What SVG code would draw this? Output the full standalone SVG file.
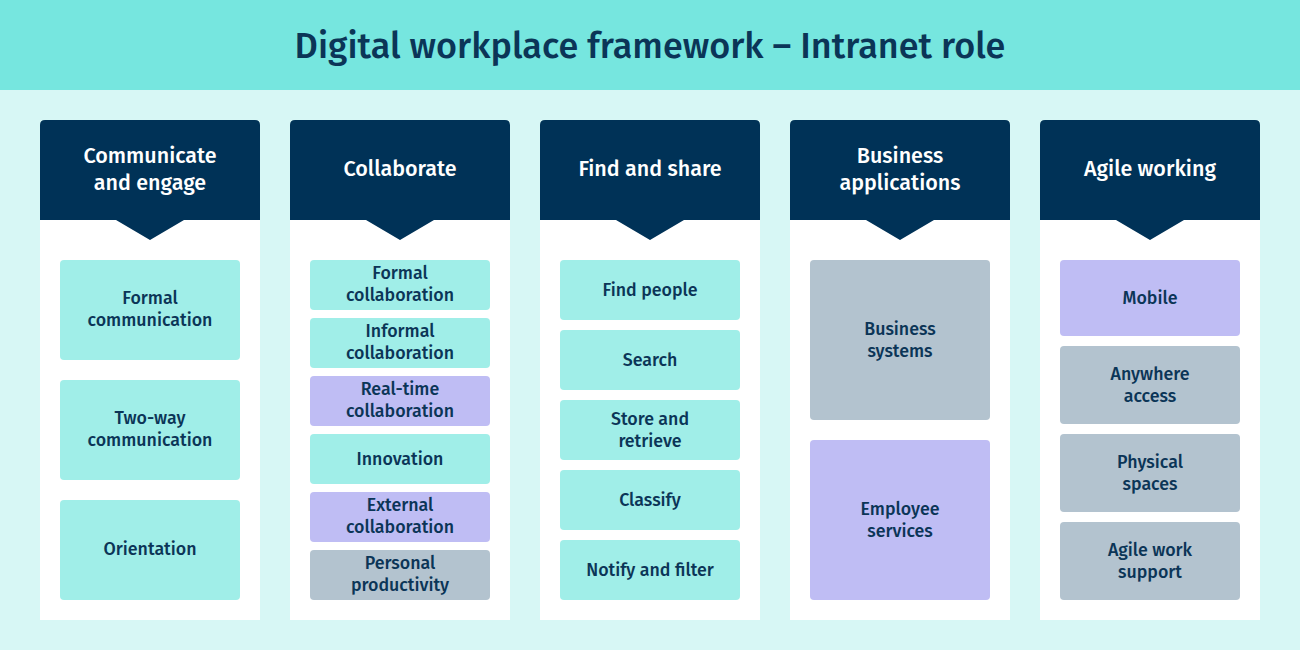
<svg xmlns="http://www.w3.org/2000/svg" width="1300" height="650" viewBox="0 0 1300 650">
<style>
.title{font-family:"Fira Sans","Noto Sans","Open Sans",sans-serif;font-weight:500;font-size:36px;fill:#0b3557;text-anchor:middle}
.hd{fill:#003257}
.hdt{font-family:"Fira Sans","Noto Sans","Open Sans",sans-serif;font-weight:500;font-size:21.5px;fill:#ffffff;text-anchor:middle}
.body{fill:#ffffff}
.t{fill:#a0eee8}
.p{fill:#bfbdf4}
.g{fill:#b3c3cf}
.it{font-family:"Fira Sans","Noto Sans","Open Sans",sans-serif;font-weight:500;font-size:17.8px;fill:#0b3557;text-anchor:middle}
</style>
<defs>
<path id="col" d="M40,220 V125 Q40,120 45,120 H255 Q260,120 260,125 V220 H184 L150,240 L116,220 Z"/>
</defs>
<rect x="0" y="0" width="1300" height="650" fill="#d7f7f5"/>
<rect x="0" y="0" width="1300" height="90" fill="#76e6df"/>
<text class="title" x="650" y="58">Digital workplace framework – Intranet role</text>

<g id="col1">
<rect class="body" x="40" y="220" width="220" height="400"/>
<use href="#col" class="hd"/>
<text class="hdt" x="150" y="163">Communicate</text>
<text class="hdt" x="150" y="190">and engage</text>
<rect class="t" x="60" y="260" width="180" height="100" rx="4"/>
<text class="it" x="150" y="304">Formal</text><text class="it" x="150" y="326">communication</text>
<rect class="t" x="60" y="380" width="180" height="100" rx="4"/>
<text class="it" x="150" y="424">Two-way</text><text class="it" x="150" y="446">communication</text>
<rect class="t" x="60" y="500" width="180" height="100" rx="4"/>
<text class="it" x="150" y="555">Orientation</text>
</g>

<g id="col2">
<rect class="body" x="290" y="220" width="220" height="400"/>
<use href="#col" class="hd" x="250"/>
<text class="hdt" x="400" y="176">Collaborate</text>
<rect class="t" x="310" y="260" width="180" height="50" rx="4"/>
<text class="it" x="400" y="279">Formal</text><text class="it" x="400" y="301">collaboration</text>
<rect class="t" x="310" y="318" width="180" height="50" rx="4"/>
<text class="it" x="400" y="337">Informal</text><text class="it" x="400" y="359">collaboration</text>
<rect class="p" x="310" y="376" width="180" height="50" rx="4"/>
<text class="it" x="400" y="395">Real-time</text><text class="it" x="400" y="417">collaboration</text>
<rect class="t" x="310" y="434" width="180" height="50" rx="4"/>
<text class="it" x="400" y="465">Innovation</text>
<rect class="p" x="310" y="492" width="180" height="50" rx="4"/>
<text class="it" x="400" y="511">External</text><text class="it" x="400" y="533">collaboration</text>
<rect class="g" x="310" y="550" width="180" height="50" rx="4"/>
<text class="it" x="400" y="569">Personal</text><text class="it" x="400" y="591">productivity</text>
</g>

<g id="col3">
<rect class="body" x="540" y="220" width="220" height="400"/>
<use href="#col" class="hd" x="500"/>
<text class="hdt" x="650" y="176">Find and share</text>
<rect class="t" x="560" y="260" width="180" height="60" rx="4"/>
<text class="it" x="650" y="296">Find people</text>
<rect class="t" x="560" y="330" width="180" height="60" rx="4"/>
<text class="it" x="650" y="366">Search</text>
<rect class="t" x="560" y="400" width="180" height="60" rx="4"/>
<text class="it" x="650" y="425">Store and</text><text class="it" x="650" y="447">retrieve</text>
<rect class="t" x="560" y="470" width="180" height="60" rx="4"/>
<text class="it" x="650" y="506">Classify</text>
<rect class="t" x="560" y="540" width="180" height="60" rx="4"/>
<text class="it" x="650" y="576">Notify and filter</text>
</g>

<g id="col4">
<rect class="body" x="790" y="220" width="220" height="400"/>
<use href="#col" class="hd" x="750"/>
<text class="hdt" x="900" y="163">Business</text>
<text class="hdt" x="900" y="190">applications</text>
<rect class="g" x="810" y="260" width="180" height="160" rx="4"/>
<text class="it" x="900" y="335">Business</text><text class="it" x="900" y="357">systems</text>
<rect class="p" x="810" y="440" width="180" height="160" rx="4"/>
<text class="it" x="900" y="515">Employee</text><text class="it" x="900" y="537">services</text>
</g>

<g id="col5">
<rect class="body" x="1040" y="220" width="220" height="400"/>
<use href="#col" class="hd" x="1000"/>
<text class="hdt" x="1150" y="176">Agile working</text>
<rect class="p" x="1060" y="260" width="180" height="76" rx="4"/>
<text class="it" x="1150" y="304">Mobile</text>
<rect class="g" x="1060" y="346" width="180" height="78" rx="4"/>
<text class="it" x="1150" y="380">Anywhere</text><text class="it" x="1150" y="402">access</text>
<rect class="g" x="1060" y="434" width="180" height="78" rx="4"/>
<text class="it" x="1150" y="468">Physical</text><text class="it" x="1150" y="490">spaces</text>
<rect class="g" x="1060" y="522" width="180" height="78" rx="4"/>
<text class="it" x="1150" y="556">Agile work</text><text class="it" x="1150" y="578">support</text>
</g>
<g id="connectors"/>
</svg>
